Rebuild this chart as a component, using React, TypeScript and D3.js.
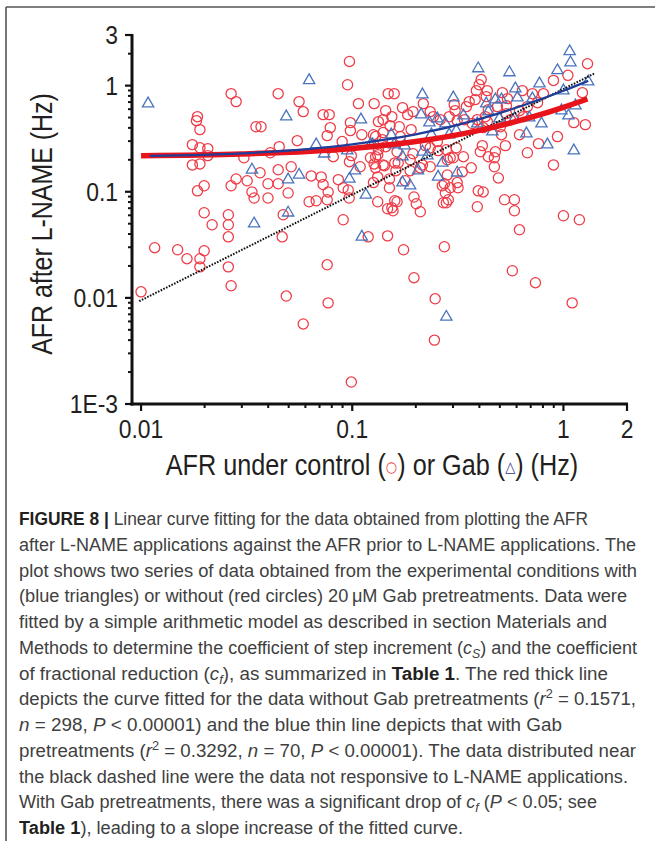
import React from "react";
import * as d3 from "d3";

// ---- data (Hz) ----
const ctrlX = [0.097,0.095,0.0267,0.0282,0.0446,0.056,0.0586,0.0185,0.0183,0.019,0.035,0.037,0.0728,0.0778,0.0787,0.0761,0.107,0.127,0.098,0.098,0.111,0.0549,0.0451,0.0409,0.0175,0.019,0.0207,0.0207,0.0175,0.019,0.0307,0.0896,0.099,0.109,0.097,0.129,0.127,0.0366,0.0446,0.0514,0.0639,0.0282,0.0318,0.0267,0.0399,0.0446,0.0497,0.0335,0.0343,0.0399,0.0185,0.0199,0.0713,0.0728,0.0769,0.0761,0.0859,0.0906,0.0957,0.0967,0.0625,0.0675,0.132,0.0199,0.0259,0.0471,0.0906,0.0217,0.0259,0.0259,0.0466,0.119,0.0116,0.0149,0.0165,0.019,0.0199,0.019,0.0259,0.0267,0.01,0.0761,0.0487,0.0769,0.0586,0.099,0.122,0.132,0.129,0.142,0.132,0.161,0.165,0.188,0.15,0.178,0.215,0.0813,0.147,0.154,0.163,0.21,0.196,0.201,0.147,0.234,0.255,0.291,0.311,0.336,0.366,0.282,0.332,0.267,0.291,0.317,0.276,0.279,0.391,0.395,1.3,1.05,0.897,0.408,0.399,0.387,0.382,0.358,0.148,0.158,0.144,0.154,0.151,0.133,0.173,0.194,0.217,0.304,0.307,0.347,0.436,0.431,0.514,0.543,0.639,0.713,0.804,0.754,0.675,0.619,0.537,0.487,0.441,0.427,0.436,0.537,0.646,0.561,0.503,0.417,0.37,0.34,0.314,0.288,0.242,0.234,1.12,1.27,1.23,0.19,0.167,0.14,0.129,0.133,0.144,0.163,0.194,0.159,0.14,0.188,0.21,0.234,0.222,0.253,0.279,0.301,0.282,0.404,0.413,0.441,0.476,0.471,0.471,0.492,0.531,0.509,0.619,0.675,0.762,0.937,0.897,0.314,0.273,0.285,0.27,0.417,0.526,0.586,0.586,0.159,0.156,0.15,0.126,1.0,1.19,0.175,0.273,0.619,0.196,0.573,0.737,0.247,1.1,0.245,0.14,0.183,0.126,0.139,0.169,0.391,0.261];
const ctrlY = [1.69,1.02,0.84,0.707,0.84,0.707,0.569,0.51,0.468,0.385,0.41,0.41,0.533,0.533,0.402,0.338,0.677,0.677,0.448,0.377,0.345,0.303,0.266,0.233,0.278,0.26,0.255,0.219,0.179,0.183,0.209,0.297,0.219,0.172,0.192,0.214,0.183,0.151,0.161,0.172,0.141,0.132,0.127,0.114,0.119,0.119,0.0974,0.0996,0.0874,0.0874,0.102,0.114,0.138,0.117,0.0996,0.0841,0.13,0.109,0.104,0.0874,0.0805,0.0823,0.0805,0.0634,0.0607,0.0607,0.0545,0.0489,0.0489,0.0376,0.0376,0.0376,0.0297,0.0284,0.0234,0.0234,0.0278,0.0196,0.0196,0.013,0.0114,0.0205,0.0104,0.00897,0.00568,0.00161,0.209,0.223,0.168,0.176,0.138,0.158,0.187,0.158,0.132,0.127,0.179,0.214,0.0692,0.0707,0.0805,0.0648,0.0893,0.0771,0.0384,0.26,0.244,0.209,0.26,0.214,0.168,0.144,0.154,0.114,0.109,0.109,0.0974,0.0788,0.0722,0.102,1.61,1.25,1.12,1.14,1.02,0.897,0.738,0.707,0.84,0.84,0.581,0.51,0.42,0.458,0.62,0.569,0.677,0.662,0.581,0.634,0.897,0.788,0.859,0.754,0.897,0.84,0.84,0.691,0.634,0.581,0.648,0.634,0.594,0.51,0.458,0.545,0.51,0.478,0.41,0.402,0.439,0.478,0.468,0.51,0.51,0.569,0.448,0.429,0.859,0.385,0.41,0.361,0.331,0.249,0.266,0.238,0.228,0.187,0.179,0.2,0.168,0.172,0.272,0.297,0.249,0.209,0.2,0.238,0.272,0.214,0.238,0.209,0.172,0.135,0.272,0.345,0.345,0.233,0.284,0.331,0.179,0.122,0.119,0.0841,0.0788,0.0996,0.0841,0.0841,0.0662,0.0823,0.0662,0.109,0.122,0.0594,0.0545,0.0284,0.0303,0.0438,0.0155,0.018,0.0139,0.0098,0.00897,0.004,0.478,0.533,0.345,0.31,0.331,0.478,0.478];

const gabX = [0.0108,0.0625,0.0487,0.0335,0.0675,0.0737,0.0947,0.11,0.122,0.103,0.097,0.0497,0.056,0.116,0.0497,0.0343,0.111,1.07,1.08,0.937,0.395,0.555,0.77,1.0,1.31,0.215,0.301,0.592,0.606,0.431,0.476,0.509,0.713,1.14,0.979,1.056,0.212,0.336,0.441,0.497,0.586,0.689,0.787,0.232,0.253,0.276,0.311,0.391,0.461,0.668,0.237,0.288,0.153,0.125,0.158,0.177,0.173,0.215,0.227,0.84,1.12,0.267,0.205,0.314,0.255,0.173,0.188,0.279];
const gabY = [0.677,1.12,0.51,0.161,0.278,0.228,0.244,0.478,0.278,0.158,0.132,0.13,0.144,0.0933,0.0634,0.05,0.0376,2.1,1.65,1.39,1.45,1.33,1.045,0.897,1.09,0.823,0.771,0.937,0.771,0.677,0.738,0.738,0.754,0.648,0.581,0.521,0.533,0.521,0.569,0.489,0.489,0.499,0.438,0.448,0.489,0.438,0.377,0.438,0.369,0.353,0.345,0.345,0.345,0.278,0.278,0.272,0.214,0.238,0.219,0.278,0.244,0.187,0.158,0.151,0.138,0.122,0.114,0.00661];

// fitted curves
const redFitX = [0.01, 0.03, 0.1, 0.2, 0.4, 0.7, 1.0, 1.3];
const redFitY = [0.219, 0.227, 0.256, 0.297, 0.379, 0.502, 0.625, 0.748];
const blueFitX = [0.011, 0.03, 0.1, 0.2, 0.4, 0.7, 1.0, 1.31];
const blueFitY = [0.218, 0.23, 0.28, 0.347, 0.484, 0.69, 0.895, 1.11];
const identX = [0.0098, 1.4];
const identY = [0.0093, 1.3];

const yTickVals = [3, 1, 0.1, 0.01, 0.001];
const yTickLabels = ["3", "1", "0.1", "0.01", "1E-3"];
const xTickVals = [0.01, 0.1, 1, 2];
const xTickLabels = ["0.01", "0.1", "1", "2"];

type Seg = [string, string?];
const captionLines: Seg[][] = [
  [["FIGURE 8 | ", "b"], ["Linear curve fitting for the data obtained from plotting the AFR"]],
  [["after L-NAME applications against the AFR prior to L-NAME applications. The"]],
  [["plot shows two series of data obtained from the experimental conditions with"]],
  [["(blue triangles) or without (red circles) 20\u2009\u03bcM Gab pretreatments. Data were"]],
  [["fitted by a simple arithmetic model as described in section Materials and"]],
  [["Methods to determine the coefficient of step increment ("], ["c", "i"], ["S", "sub"], [") and the coefficient"]],
  [["of fractional reduction ("], ["c", "i"], ["f", "sub"], ["), as summarized in "], ["Table 1", "b"], [". The red thick line"]],
  [["depicts the curve fitted for the data without Gab pretreatments ("], ["r", "i"], ["2", "sup"], [" = 0.1571,"]],
  [["n", "i"], [" = 298, "], ["P", "i"], [" < 0.00001) and the blue thin line depicts that with Gab"]],
  [["pretreatments ("], ["r", "i"], ["2", "sup"], [" = 0.3292, "], ["n", "i"], [" = 70, "], ["P", "i"], [" < 0.00001). The data distributed near"]],
  [["the black dashed line were the data not responsive to L-NAME applications."]],
  [["With Gab pretreatments, there was a significant drop of "], ["c", "i"], ["f", "sub"], [" ("], ["P", "i"], [" < 0.05; see"]],
  [["Table 1", "b"], ["), leading to a slope increase of the fitted curve."]],
];
const captionLineEnds = [588, 636, 637, 627, 607, 637, 608, 636, 562, 636, 628, 597, 463];

const W = 655, H = 841;
const plot = { left: 132, right: 627, top: 35, bottom: 404 };
const AX_FONT = "'Liberation Sans', Arial, sans-serif";
const SYM_FONT = "'DejaVu Sans', sans-serif";
const INK = "#231f20";

export default function App() {
  const x = d3.scaleLog().domain([0.00906, 2]).range([plot.left, plot.right]);
  const y = d3.scaleLog().domain([0.001, 3]).range([plot.bottom, plot.top]);

  const line = d3
    .line<[number, number]>()
    .x((d) => x(d[0]))
    .y((d) => y(d[1]))
    .curve(d3.curveMonotoneX);

  const redPts = redFitX.map((v, i) => [v, redFitY[i]] as [number, number]);
  const bluePts = blueFitX.map((v, i) => [v, blueFitY[i]] as [number, number]);
  const idPts = identX.map((v, i) => [v, identY[i]] as [number, number]);

  const tri = d3.symbol(d3.symbolTriangle, 55)() as string;

  const yMinor: number[] = [];
  for (let e = -3; e <= 0; e++) {
    for (let m = 2; m <= 9; m++) {
      const v = m * Math.pow(10, e);
      if (v <= 3.0001) yMinor.push(v);
    }
  }
  const xMinor: number[] = [];
  for (let e = -2; e <= 0; e++) {
    for (let m = 2; m <= 9; m++) {
      const v = m * Math.pow(10, e);
      if (v > 0.00906 && v < 2) xMinor.push(v);
    }
  }

  const renderSeg = (s: Seg, k: number) => {
    const [t, st] = s;
    if (st === "b") return <tspan key={k} fontWeight="bold" fill="#231f20">{t}</tspan>;
    if (st === "i") return <tspan key={k} fontStyle="italic">{t}</tspan>;
    if (st === "sub") return <tspan key={k} fontStyle="italic" fontSize="12" baselineShift="-4">{t}</tspan>;
    if (st === "sup") return <tspan key={k} fontSize="12" baselineShift="7">{t}</tspan>;
    return <tspan key={k}>{t}</tspan>;
  };

  return (
    <svg
      width={W}
      height={H}
      style={{ position: "absolute", left: 0, top: 0, background: "#fff" }}
    >
      {/* frame */}
      <line x1={6} y1={7} x2={W} y2={7} stroke="#555" strokeWidth={1.6} />
      <line x1={6} y1={7} x2={6} y2={H} stroke="#555" strokeWidth={1.6} />

      {/* markers */}
      <g fill="none" stroke="#ee3b46" strokeWidth={1.25}>
        {ctrlX.map((v, i) => (
          <circle key={i} cx={x(v)} cy={y(ctrlY[i])} r={5.1} />
        ))}
      </g>
      <g fill="none" stroke="#4a74bd" strokeWidth={1.3}>
        {gabX.map((v, i) => (
          <path key={i} d={tri} transform={`translate(${x(v)},${y(gabY[i])})`} />
        ))}
      </g>

      {/* fitted lines */}
      <path d={line(idPts) as string} fill="none" stroke="#111" strokeWidth={2} strokeDasharray="1.6 1.4" />
      <path d={line(redPts) as string} fill="none" stroke="#e8141b" strokeWidth={5.5} />
      <path d={line(bluePts) as string} fill="none" stroke="#1f3d99" strokeWidth={2.3} />

      {/* axes */}
      <g stroke="#111">
        <line x1={plot.left} y1={plot.top - 1} x2={plot.left} y2={plot.bottom + 1.5} strokeWidth={3} />
        <line x1={plot.left - 1.5} y1={plot.bottom} x2={plot.right + 1} y2={plot.bottom} strokeWidth={3} />
        {yTickVals.map((v, i) => (
          <line key={"yt" + i} x1={plot.left - 7} x2={plot.left} y1={y(v)} y2={y(v)} strokeWidth={2.2} />
        ))}
        {yMinor.map((v, i) => (
          <line key={"ym" + i} x1={plot.left - 4} x2={plot.left} y1={y(v)} y2={y(v)} strokeWidth={2} />
        ))}
        {xTickVals.map((v, i) => (
          <line key={"xt" + i} x1={x(v)} x2={x(v)} y1={plot.bottom} y2={plot.bottom + 7} strokeWidth={2.2} />
        ))}
        {xMinor.map((v, i) => (
          <line key={"xm" + i} x1={x(v)} x2={x(v)} y1={plot.bottom} y2={plot.bottom + 4} strokeWidth={2} />
        ))}
      </g>
      <g fontFamily={AX_FONT} fontSize={26} fill={INK}>
        {yTickVals.map((v, i) => (
          <text
            key={"yl" + i}
            transform={`translate(118,${y(v) + 9.3}) scale(0.88,1)`}
            textAnchor="end"
          >
            {yTickLabels[i]}
          </text>
        ))}
        {xTickVals.map((v, i) => (
          <text
            key={"xl" + i}
            transform={`translate(${x(v)},438) scale(0.88,1)`}
            textAnchor="middle"
          >
            {xTickLabels[i]}
          </text>
        ))}
      </g>
      <text
        fontFamily={AX_FONT}
        fontSize={29}
        fill={INK}
        textAnchor="middle"
        transform="translate(52,224) rotate(-90) scale(0.86,1)"
      >
        AFR after L-NAME (Hz)
      </text>
      <text
        fontFamily={AX_FONT}
        fontSize={29}
        fill={INK}
        transform="translate(372,475) scale(0.87,1)"
        textAnchor="middle"
      >
        AFR under control (<tspan fontFamily={SYM_FONT} fill="#ee3b46" fontSize={15} baselineShift="3">○</tspan>) or Gab (<tspan fontFamily={SYM_FONT} fill="#2b3990" fontSize={15} baselineShift="3">△</tspan>) (Hz)
      </text>

      {/* caption */}
      <g fontFamily={AX_FONT} fontSize={17.5} fill="#404040">
        {captionLines.map((segs, li) => (
          <text
            key={li}
            x={19}
            y={525 + li * 25.75}
            textLength={captionLineEnds[li] - 19}
            lengthAdjust="spacingAndGlyphs"
          >
            {segs.map(renderSeg)}
          </text>
        ))}
      </g>
    </svg>
  );
}
